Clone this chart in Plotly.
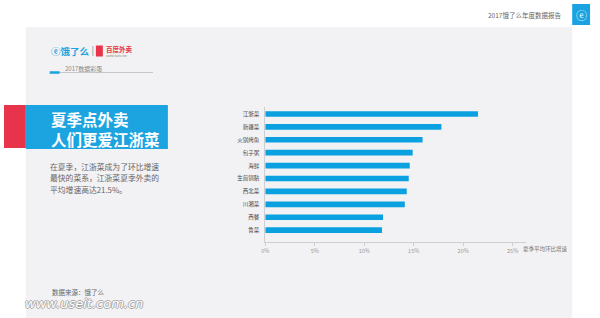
import plotly.graph_objects as go

W, H = 600, 318

categories = ["江浙菜", "新疆菜", "火锅烤鱼", "包子粥", "海鲜", "生煎锅贴", "西北菜", "川湘菜", "西餐", "鲁菜"]
growth = [21.5, 17.8, 15.9, 14.9, 14.6, 14.5, 14.3, 14.1, 11.9, 11.8]
tick_vals = [0, 5, 10, 15, 20, 25]
tick_text = ["0%", "5%", "10%", "15%", "20%", "25%"]

FONT = "Noto Sans CJK SC"
BLUE = "#0ba0e0"
PANEL = "#f2f1f3"
RED = "#e8344a"


def px(x):
    return x / W


def py(y):
    return 1 - y / H


fig = go.Figure()
fig.add_trace(go.Bar(
    y=categories, x=growth, orientation="h",
    marker=dict(color=BLUE, line=dict(width=0)),
    hoverinfo="skip",
))

shapes = [
    dict(type="rect", xref="paper", yref="paper", x0=px(22), x1=px(572), y0=py(318), y1=py(27),
         fillcolor=PANEL, line=dict(width=0), layer="below"),
    dict(type="rect", xref="paper", yref="paper", x0=px(572), x1=px(590), y0=py(25), y1=py(4),
         fillcolor="#1aa3e0", line=dict(width=0), layer="below"),
    dict(type="rect", xref="paper", yref="paper", x0=px(0), x1=px(22), y0=py(148), y1=py(105),
         fillcolor=RED, line=dict(width=0), layer="below"),
    dict(type="rect", xref="paper", yref="paper", x0=px(22), x1=px(165), y0=py(149), y1=py(105),
         fillcolor="#1ca4e0", line=dict(width=0), layer="below"),
    dict(type="line", xref="paper", yref="paper", x0=px(55), x1=px(150), y0=py(72.5), y1=py(72.5),
         line=dict(color="#c8c8cc", width=1)),
    dict(type="line", xref="paper", yref="paper", x0=px(46), x1=px(56), y0=py(72.5), y1=py(72.5),
         line=dict(color="#1aa3e0", width=2.5)),
    dict(type="line", xref="paper", yref="paper", x0=px(89.5), x1=px(89.5), y0=py(46), y1=py(56),
         line=dict(color="#aaaaaa", width=1)),
    dict(type="rect", xref="paper", yref="paper", x0=px(92.5), x1=px(99.5), y0=py(56.5), y1=py(45.5),
         fillcolor=RED, line=dict(width=0)),
]

ann = []


def text(x, y, s, size, color, xanchor="left", bold=False, family=FONT, **kw):
    ann.append(dict(xref="paper", yref="paper", x=px(x), y=py(y), text=("<b>%s</b>" % s) if bold else s,
                    showarrow=False, xanchor=xanchor, yanchor="middle",
                    font=dict(family=family, size=size, color=color), **kw))


text(563, 15, "2017饿了么年度数据报告", 6.5, "#666666", xanchor="right")
text(581, 14.5, "ⓔ", 11, "#ffffff", xanchor="center")
text(45, 51, "ⓔ饿了么", 9.5, "#1aa3e0", bold=True)
text(100.5, 48.5, "百度外卖", 6.5, RED, bold=True)
text(101, 56.2, "waimai.baidu.com", 2.4, "#888888")
text(59, 68.5, "2017数据彩蛋", 6, "#888888")
text(45, 119.5, "夏季点外卖", 15.5, "#ffffff", bold=True)
text(45, 138.5, "人们更爱江浙菜", 15.5, "#ffffff", bold=True)
text(44, 166, "在夏季，江浙菜成为了环比增速", 7.8, "#666666")
text(44, 177.5, "最快的菜系，江浙菜夏季外卖的", 7.8, "#666666")
text(44, 189, "平均增速高达21.5%。", 7.8, "#666666")
text(520, 249, "夏季平均环比增速", 5.5, "#777777")
text(46, 292, "数据来源：饿了么", 6.5, "#666666")
ann.append(dict(xref="paper", yref="paper", x=px(19), y=py(303), text="<i>www.useit.com.cn</i>",
                showarrow=False, xanchor="left", yanchor="middle",
                font=dict(family="DejaVu Sans", size=13, color="#ffffff",
                          shadow="1px 0 0 #aaa, -1px 0 0 #aaa, 0 1px 0 #aaa, 0 -1px 0 #aaa")))

fig.update_layout(
    width=W, height=H,
    margin=dict(l=0, r=0, t=0, b=0),
    paper_bgcolor="#ffffff",
    plot_bgcolor="rgba(0,0,0,0)",
    showlegend=False,
    bargap=0.56,
    shapes=shapes,
    annotations=ann,
    xaxis=dict(domain=[px(263), px(525)], range=[0, 26.3], tickvals=tick_vals, ticktext=tick_text,
               showgrid=False, zeroline=False, showline=True, linecolor="#cfcfd3", linewidth=1,
               ticks="outside", ticklen=3, tickcolor="#d0d0d4",
               tickfont=dict(family=FONT, size=5.5, color="#999999"), fixedrange=True),
    yaxis=dict(domain=[py(242), py(107)], range=[9.92, -0.54], type="category",
               showgrid=False, zeroline=False, showline=True, linecolor="#cfcfd3", linewidth=1,
               ticks="", ticklabelstandoff=4,
               tickfont=dict(family=FONT, size=5.5, color="#444444"), fixedrange=True),
)

fig.write_html("out.html")
